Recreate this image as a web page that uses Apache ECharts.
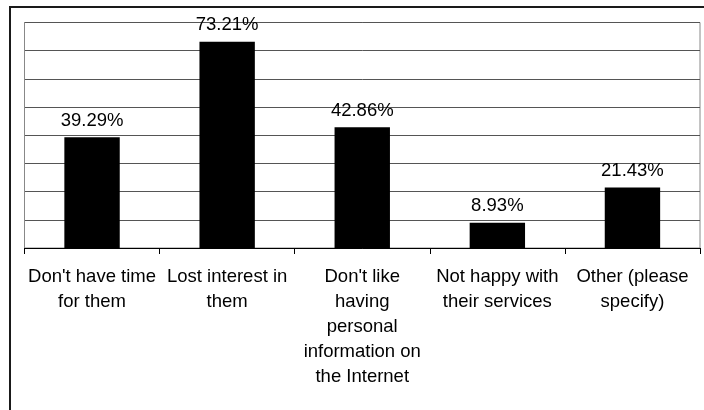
<!doctype html>
<html lang="en">
<head>
    <meta charset="UTF-8">
    <title>Reasons</title>
    <script src="https://cdn.jsdelivr.net/npm/echarts@6/dist/echarts.min.js"></script>
    <style>
        html, body { margin: 0; padding: 0; background: #fff; }
        #chart { width: 704px; height: 410px; }
    </style>
</head>
<body>
<div id="chart"></div>
<script>
    // data
    var categories = [
        "Don't have time\nfor them",
        "Lost interest in\nthem",
        "Don't like\nhaving\npersonal\ninformation on\nthe Internet",
        "Not happy with\ntheir services",
        "Other (please\nspecify)"
    ];
    var percents = [39.29, 73.21, 42.86, 8.93, 21.43];
    var yMin = 0, yMax = 80, yStep = 10;

    var myChart = echarts.init(document.getElementById('chart'));
    var font = 'Liberation Sans, Arial, sans-serif';

    var option = {
        animation: false,
        backgroundColor: '#fff',
        graphic: [{
            type: 'rect',
            shape: { x: 10, y: 7, width: 720, height: 430 },
            style: { fill: null, stroke: '#1a1a1a', lineWidth: 2 },
            silent: true
        }],
        grid: {
            left: 24.5, right: 4, top: 22.5, bottom: 162,
            show: true, borderColor: '#888', borderWidth: 1
        },
        xAxis: {
            type: 'category',
            data: categories,
            axisLine: { lineStyle: { color: '#000', width: 1 } },
            axisTick: { show: true, length: 6, lineStyle: { color: '#000' } },
            axisLabel: {
                interval: 0, margin: 16, color: '#000',
                fontFamily: font, fontSize: 18.5, lineHeight: 25
            }
        },
        yAxis: {
            type: 'value',
            min: yMin, max: yMax, interval: yStep,
            axisLabel: { show: false },
            axisTick: { show: false },
            axisLine: { show: true, lineStyle: { color: '#888' } },
            splitLine: { lineStyle: { color: '#555', width: 1 } }
        },
        series: [{
            type: 'bar',
            data: percents,
            barWidth: '41%',
            itemStyle: { color: '#000' },
            label: {
                show: true, position: 'top', distance: 7,
                color: '#000', fontFamily: font, fontSize: 18.5,
                formatter: function (p) { return p.value.toFixed(2) + '%'; }
            }
        }]
    };
    myChart.setOption(option);
</script>
</body>
</html>
